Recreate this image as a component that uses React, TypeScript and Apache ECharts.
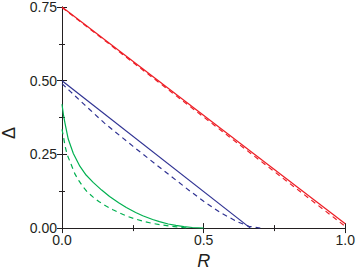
import React, { useEffect, useRef } from "react";
import * as echarts from "echarts";

const xTicks = [0, 0.5, 1];
const yTicks = [0, 0.25, 0.5, 0.75];

const redSolidX = [0, 1];
const redSolidY = [0.75, 0.015];
const redDashX = [0, 1];
const redDashY = [0.748, 0.006];

const blueSolidX = [0, 0.665];
const blueSolidY = [0.5, 0];
const blueDashX = [0, 0.03, 0.08, 0.15, 0.25, 0.35, 0.45, 0.5, 0.56, 0.62, 0.66, 0.7];
const blueDashY = [0.49, 0.463, 0.418, 0.356, 0.278, 0.202, 0.127, 0.091, 0.052, 0.021, 0.006, 0];

const greenSolidX = [0, 0.005, 0.0105, 0.022, 0.04, 0.063, 0.085, 0.11, 0.14, 0.168, 0.2, 0.227, 0.26, 0.285, 0.32, 0.344, 0.375, 0.402, 0.43, 0.46, 0.5];
const greenSolidY = [0.42, 0.385, 0.356, 0.302, 0.253, 0.21, 0.18, 0.155, 0.129, 0.107, 0.086, 0.07, 0.053, 0.042, 0.029, 0.022, 0.014, 0.009, 0.005, 0.002, 0];
const greenDashX = [0, 0.0046, 0.0105, 0.018, 0.028, 0.046, 0.06, 0.075, 0.09, 0.11, 0.13, 0.157, 0.18, 0.204, 0.23, 0.262, 0.29, 0.32, 0.35, 0.379, 0.405, 0.425, 0.45];
const greenDashY = [0.335, 0.313, 0.28, 0.25, 0.226, 0.183, 0.16, 0.139, 0.122, 0.105, 0.09, 0.074, 0.062, 0.051, 0.04, 0.03, 0.022, 0.016, 0.011, 0.007, 0.004, 0.002, 0];

const RED = "#ed1c24";
const BLUE = "#2e3192";
const GREEN = "#00b050";
const INK = "#231f20";
const FONT = "Liberation Sans";

const zip = (xs: number[], ys: number[]) => xs.map((x, i) => [x, ys[i]]);

export default function App() {
  const ref = useRef<HTMLDivElement>(null);
  useEffect(() => {
    if (!ref.current) return;
    const chart = echarts.init(ref.current, undefined, { renderer: "svg" });
    const axisCommon = {
      axisLine: { show: true, lineStyle: { color: INK, width: 1 } },
      axisTick: { show: true, inside: true, length: 5, lineStyle: { color: INK, width: 1 } },
      minorTick: { show: true, splitNumber: 2, length: 3, lineStyle: { color: INK, width: 1 } },
      splitLine: { show: false },
    };
    const xInt = xTicks[1] - xTicks[0];
    const yInt = yTicks[1] - yTicks[0];
    const line = (name: string, xs: number[], ys: number[], color: string, dashed: boolean) => ({
      name,
      type: "line",
      data: zip(xs, ys),
      showSymbol: false,
      symbol: "none",
      smooth: false,
      clip: true,
      lineStyle: { color, width: 1.2, type: dashed ? [5, 4] : "solid", join: "round" },
    });
    chart.setOption({
      animation: false,
      grid: { left: 62, right: 11, top: 6, bottom: 39, containLabel: false },
      xAxis: [
        {
          type: "value",
          min: xTicks[0],
          max: xTicks[xTicks.length - 1],
          interval: xInt,
          ...axisCommon,
          axisLabel: {
            show: true,
            margin: 5,
            color: INK,
            fontFamily: FONT,
            fontSize: 14,
            formatter: (v: number) => v.toFixed(1),
          },
          name: "R",
          nameLocation: "middle",
          nameGap: 20,
          nameTextStyle: { color: INK, fontFamily: FONT, fontSize: 18, fontStyle: "italic" },
        },
        {
          type: "value",
          position: "top",
          min: xTicks[0],
          max: xTicks[xTicks.length - 1],
          interval: xInt,
          ...axisCommon,
          axisLabel: { show: false },
        },
      ],
      yAxis: [
        {
          type: "value",
          min: yTicks[0],
          max: yTicks[yTicks.length - 1],
          interval: yInt,
          ...axisCommon,
          axisLabel: {
            show: true,
            margin: 5,
            color: INK,
            fontFamily: FONT,
            fontSize: 14,
            formatter: (v: number) => v.toFixed(2),
          },
        },
        {
          type: "value",
          position: "right",
          min: yTicks[0],
          max: yTicks[yTicks.length - 1],
          interval: yInt,
          ...axisCommon,
          axisLabel: { show: false },
        },
      ],
      graphic: [
        {
          type: "text",
          x: 9,
          y: 133,
          rotation: Math.PI / 2,
          style: {
            text: "Δ",
            fill: INK,
            fontFamily: FONT,
            fontSize: 18,
            align: "center",
            verticalAlign: "middle",
          },
        },
      ],
      series: [
        line("redSolid", redSolidX, redSolidY, RED, false),
        line("redDash", redDashX, redDashY, RED, true),
        line("blueSolid", blueSolidX, blueSolidY, BLUE, false),
        line("blueDash", blueDashX, blueDashY, BLUE, true),
        line("greenSolid", greenSolidX, greenSolidY, GREEN, false),
        line("greenDash", greenDashX, greenDashY, GREEN, true),
      ],
    });
    return () => chart.dispose();
  }, []);
  return (
    <div
      ref={ref}
      style={{ position: "fixed", left: 0, top: 0, width: 358, height: 275, background: "#fff" }}
    />
  );
}
